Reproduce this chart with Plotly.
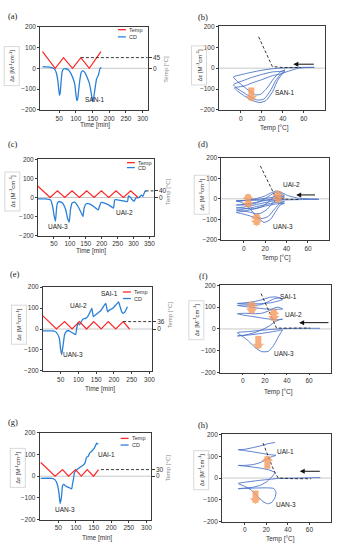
import plotly.graph_objects as go

W, H = 341, 550

# ---------------- data ----------------
# (a) SAN-1 : CD and temperature vs time
a_time = [0, 12, 25, 33, 38, 42, 46, 49, 51, 53, 56, 59, 63, 70, 78, 86, 93, 97, 100, 103, 105, 108, 112,
          116, 120, 126, 133, 140, 145, 149, 151, 154, 158, 162, 167, 172, 176]
a_cd = [8, 7, 5, 0, -8, -25, -60, -105, -130, -118, -60, -15, -3, -2, -8, -28, -55, -80, -125, -155, -150,
        -110, -55, -20, -12, -18, -40, -70, -110, -150, -160, -135, -90, -50, -35, -2, 5]
a_temp_time = [0, 38, 63, 90, 115, 140, 175]
a_temp = [70, 0, 45, 0, 45, 0, 70]
a_hold_time = [115, 320]
a_hold_temp = [45, 45]

# (b) SAN-1 : CD vs temperature
b_temp = [70, 60, 50, 40, 30, 20, 10, 3, -7,
          -4, 2, 9, 14, 19, 25, 31, 37, 42,
          40, 30, 20, 10, 3, -7,
          -4, 3, 10, 16, 22, 28, 33, 38, 42,
          40, 30, 20, 10, 3, -6,
          -3, 4, 11, 18, 24, 30, 35, 40, 47, 55, 62, 70]
b_cd = [4, 4, 3, 1, -3, -10, -20, -28, -42,
        -60, -85, -112, -128, -125, -95, -52, -20, -8,
        -14, -18, -30, -45, -58, -79,
        -95, -118, -140, -153, -148, -110, -62, -28, -14,
        -25, -36, -55, -72, -86, -94,
        -110, -135, -155, -165, -155, -115, -60, -25, -12, 0, 3, 4]
b_guide_temp = [17, 24, 30, 40, 57]
b_guide_cd = [150, 75, 8, 3, 3]

# (c) UAN-3 -> UAI-2 : CD and temperature vs time
c_time = [0, 20, 35, 40, 46, 51, 55, 58, 61, 67, 77, 87, 93, 98, 102, 107, 115, 126, 136, 141, 145, 151, 162,
          177, 189, 193, 198, 209, 224, 237, 241, 250, 265, 281, 284, 291, 296, 302, 307, 317, 325, 329, 336, 340]
c_cd = [-7, -7, -10, -14, -47, -98, -124, -64, -29, -21, -29, -64, -110, -129, -64, -29, -24, -47, -81, -100,
        -55, -33, -33, -50, -65, -47, -26, -29, -41, -55, -12, -12, -17, -21, 9, 0, -12, -19, -3, 0, 14, 5, 34, 31]
c_temp_time = [0, 38, 61, 84, 107, 130, 153, 176, 199, 222, 245, 268, 291, 314]
c_temp = [68, 0, 40, 0, 40, 0, 40, 0, 40, 0, 40, 0, 40, 0]
c_hold_time = [338, 365]
c_hold_temp = [40, 40]

# (d) UAN-3 -> UAI-2 : CD vs temperature
d_temp = [70, 60, 50, 40, 30, 20, 10, 0, -7,
          -2, 5, 12, 19, 25, 30, 34, 38,
          30, 20, 10, 0, -7,
          -2, 5, 11, 17, 23, 29, 34, 38,
          30, 20, 10, 0, -7,
          -2, 5, 11, 16, 22, 28, 33, 38,
          30, 20, 10, 0, -7,
          -2, 5, 11, 17, 23, 28, 33, 38,
          30, 20, 10, 0, -7,
          -2, 5, 12, 18, 24, 29, 34, 38,
          30, 20, 10, 0, -7,
          -2, 5, 12, 19, 25, 30, 35, 40, 50, 60, 70]
d_cd = [-3, -3, -4, -5, -6, -6, -7, -8, -9,
        -18, -45, -85, -115, -100, -60, -30, -22,
        -25, -35, -48, -60, -66,
        -72, -82, -92, -96, -85, -48, -20, -14,
        -18, -28, -40, -50, -55,
        -58, -64, -72, -70, -50, -15, 0, -2,
        -8, -18, -30, -40, -44,
        -45, -48, -48, -38, -15, 10, 18, 8,
        2, -8, -18, -27, -30,
        -30, -27, -20, -5, 15, 30, 28, 15,
        10, 2, -4, -8, -12,
        -10, -5, 2, 12, 28, 38, 32, 18, 4, 0, -1]
d_guide_temp = [15.5, 22, 27, 30, 40, 52]
d_guide_cd = [160, 90, 35, 5, -2, -3]

# (e) UAN-3 -> UAI-2 -> SAI-1 : CD and temperature vs time
e_time = [0, 29, 38, 46, 50, 53, 57, 61, 66, 71, 77, 85, 92, 96, 99, 103, 108, 112, 120, 126, 131, 136, 138,
          142, 148, 154, 164, 173, 177, 182, 187, 196, 205, 213, 216, 222, 226, 231, 238]
e_cd = [-9, -9, -16, -43, -98, -122, -75, -27, -12, -7, -12, -20, -27, 12, 31, 20, 35, 46, 51, 59, 75, 93, 98,
        59, 67, 75, 90, 114, 122, 82, 90, 98, 114, 129, 114, 82, 75, 82, 106]
e_temp_time = [0, 38, 61, 82, 103, 123, 143, 164, 184, 205, 226, 244]
e_temp = [64, 0, 36, 0, 36, 0, 36, 0, 36, 0, 36, 0]
e_hold_time = [226, 310]
e_hold_temp = [36, 36]

# (f) UAN-3 -> UAI-2 -> SAI-1 : CD vs temperature
f_temp = [70, 60, 50, 40, 32, 24, 15, 5, -5,
          0, 5, 11, 17, 23, 28, 32, 35, 36,
          30, 20, 10, 0, -5,
          2, 10, 18, 24, 29, 33, 36,
          30, 20, 10, 0, -5,
          2, 10, 17, 23, 28, 32, 36,
          30, 20, 10, 0, -5,
          2, 10, 17, 23, 28, 33, 36,
          32, 25, 15, 5, -5,
          2, 10, 18, 24, 30, 35]
f_cd = [3, 3, 3, 2, 0, -3, -7, -12, -17,
        -35, -55, -85, -104, -103, -75, -38, -12, -5,
        -10, -18, -25, -30, -32,
        -28, -18, -2, 14, 33, 42, 45,
        42, 48, 56, 64, 70,
        72, 70, 72, 82, 95, 100, 92,
        90, 92, 98, 104, 108,
        110, 108, 112, 125, 138, 142, 135,
        128, 120, 116, 115, 117,
        120, 125, 135, 145, 147, 140]
f_guide_temp = [16.5, 20, 23, 27.5, 30.5, 45, 61]
f_guide_cd = [162, 124, 87, 41, 4, 4, 4]

# (g) UAN-3 -> UAI-1 : CD and temperature vs time
g_time = [0, 32, 41, 48, 52, 55, 59, 62, 66, 72, 81, 88, 90, 93, 96, 104, 113, 121, 126, 130, 135, 139, 146,
          153, 159, 163]
g_cd = [-10, -10, -17, -43, -80, -125, -95, -43, -38, -47, -53, -58, -38, -13, 17, 32, 43, 52, 62, 87, 92,
        107, 117, 132, 152, 147]
g_temp_time = [0, 41, 62, 79, 99, 115, 132, 150, 164]
g_temp = [62, 0, 30, 0, 30, 0, 30, 0, 30]
g_hold_time = [171, 315]
g_hold_temp = [30, 30]

# (h) UAN-3 -> UAI-1 : CD vs temperature
h_temp = [70, 60, 50, 40, 31, 25, 15, 5, -6,
          0, 6, 12, 17, 21, 25, 28, 29, 27,
          20, 10, 0, -6,
          0, 8, 15, 21, 25, 28,
          22, 15, 8, 0, -6,
          0, 8, 15, 21, 25, 29,
          22, 15, 8, 0, -6,
          0, 8, 15, 22, 28]
h_cd = [2, 1, 0, -1, -2, -5, -10, -16, -25,
        -38, -55, -85, -108, -118, -112, -90, -65, -48,
        -45, -46, -48, -49,
        -46, -42, -32, -15, 5, 25,
        38, 45, 50, 55, 58,
        58, 62, 72, 88, 98, 104,
        108, 114, 120, 126, 130,
        132, 140, 148, 158, 163]
h_guide_temp = [17, 22, 27, 31, 45, 61.5]
h_guide_cd = [160, 101, 35, 0, -3, -3]

time_ticks_300 = [50, 100, 150, 200, 250, 300]
time_ticks_350 = [50, 100, 150, 200, 250, 300, 350]
temp_ticks = [0, 20, 40, 60]
cd_ticks = [-200, -100, 0, 100, 200]

# ---------------- styling helpers ----------------
FONT = 'Liberation Sans, Arial, sans-serif'
SERIF = 'Liberation Serif, Times New Roman, serif'
RED = '#ff2626'
BLUE_T = '#2a80d8'
BLUE_L = '#4a72c8'
ORANGE = 'rgba(245,155,95,0.8)'
AXC = '#3a3a3a'
tick_font = dict(family=FONT, size=6.5, color='#333333')

fig = go.Figure()
layout = dict(width=W, height=H, margin=dict(l=0, r=0, t=0, b=0), paper_bgcolor='white',
              plot_bgcolor='white', showlegend=False, font=dict(family=FONT))
annotations = []
shapes = []


def xd(p):
    return p / W


def yd(p):
    return 1 - p / H


def akey(p, n):
    return p if n == 1 else f'{p}{n}'


def base_axis(domain, rng, tickvals, anchor):
    return dict(domain=domain, range=rng, tickvals=tickvals, anchor=anchor,
                showline=True, linecolor=AXC, linewidth=0.8, mirror=True,
                ticks='outside', ticklen=2, tickwidth=0.8, tickcolor=AXC,
                showgrid=False, zeroline=False, tickfont=tick_font, fixedrange=True)


def add_frame(n, box, xr, xtv):
    x0, x1, y0, y1 = box
    xid, yid = akey('x', n), akey('y', n)
    layout[akey('xaxis', n)] = base_axis([xd(x0), xd(x1)], list(xr), xtv, yid)
    layout[akey('yaxis', n)] = base_axis([yd(y1), yd(y0)], [-200, 200], cd_ticks, xid)
    shapes.append(dict(type='line', xref=f'{xid} domain', x0=0, x1=1, yref=yid, y0=0, y1=0,
                       line=dict(color='#c8c8c8', width=1), layer='below'))
    return xid, yid


def note(text, x, y, size=7, family=FONT, color='#222222', angle=0, xanchor='center', **kw):
    annotations.append(dict(text=text, x=xd(x), y=yd(y), xref='paper', yref='paper', showarrow=False,
                            font=dict(family=family, size=size, color=color), textangle=angle,
                            xanchor=xanchor, yanchor='middle', **kw))


def ylab(x, y):
    note('Δε [M<sup>-1</sup>cm<sup>-1</sup>]', x, y, size=6, angle=-90, color='#333333',
         bordercolor='#d9d9d9', borderwidth=1, borderpad=3)


def legend(x, yt, yc):
    for yy, col, lab in ((yt, RED, 'Temp'), (yc, BLUE_T, 'CD')):
        shapes.append(dict(type='line', xref='paper', yref='paper', x0=xd(x), x1=xd(x + 8),
                           y0=yd(yy), y1=yd(yy), line=dict(color=col, width=1.3)))
        note(lab, x + 9, yy, size=5.5, xanchor='left', color='#333333')


def block_arrow(xid, yid, x, y_from, y_to, both=False):
    annotations.append(dict(x=x, y=y_to, ax=x, ay=y_from, xref=xid, yref=yid, axref=xid, ayref=yid,
                            showarrow=True, text='', arrowhead=1, arrowsize=0.32, arrowwidth=6,
                            arrowcolor=ORANGE, arrowside='end+start' if both else 'end',
                            startarrowhead=1, startarrowsize=0.32))


def black_arrow(xid, yid, x_from, x_to, y):
    annotations.append(dict(x=x_to, y=y, ax=x_from, ay=y, xref=xid, yref=yid, axref=xid, ayref=yid,
                            showarrow=True, text='', arrowhead=2, arrowsize=1, arrowwidth=1,
                            arrowcolor='#111111'))


def time_panel(n, tn, box, xr, xtv, t_range, hold_label, t, cd, tt, temp, ht, htemp):
    xid, yid = add_frame(n, box, xr, xtv)
    tid = akey('y', tn)
    layout[akey('yaxis', tn)] = dict(overlaying=yid, side='right', anchor=xid, range=[-t_range, t_range],
                                     tickvals=[0, hold_label], ticks='outside', ticklen=3, tickwidth=0.8,
                                     tickcolor=AXC, showline=False, showgrid=False, zeroline=False,
                                     tickfont=tick_font, fixedrange=True)
    fig.add_trace(go.Scatter(x=t, y=cd, xaxis=xid, yaxis=yid, mode='lines',
                             line=dict(color=BLUE_T, width=1.3, shape='spline', smoothing=0.4)))
    fig.add_trace(go.Scatter(x=tt, y=temp, xaxis=xid, yaxis=tid, mode='lines',
                             line=dict(color=RED, width=1.2)))
    fig.add_trace(go.Scatter(x=ht, y=htemp, xaxis=xid, yaxis=tid, mode='lines',
                             line=dict(color='#222222', width=0.9, dash='3px,2px')))
    return xid, yid


def loop_panel(n, box, temp, cd, gt, gcd):
    xid, yid = add_frame(n, box, [-21, 80], temp_ticks)
    fig.add_trace(go.Scatter(x=temp, y=cd, xaxis=xid, yaxis=yid, mode='lines',
                             line=dict(color=BLUE_L, width=0.9, shape='spline', smoothing=0.5)))
    fig.add_trace(go.Scatter(x=gt, y=gcd, xaxis=xid, yaxis=yid, mode='lines',
                             line=dict(color='#222222', width=0.9, dash='3px,2px')))
    return xid, yid


# ---------------- panels ----------------
# (a)
time_panel(1, 9, (40.5, 149, 23, 107.3), [-7, 315], time_ticks_300, 175, 45,
           a_time, a_cd, a_temp_time, a_temp, a_hold_time, a_hold_temp)
legend(119, 26, 33.3)
note('SAN-1', 96, 97, size=6.5)
note('Time [min]', 96, 123, size=6.5, color='#333333')
ylab(12, 63)
note('Temp [°C]', 168, 66, size=6, angle=-90, color='#888888')
note('(a)', 13, 12, size=8.5, family=SERIF)

# (b)
xb, yb = loop_panel(2, (220.7, 327.7, 22.7, 107.3), b_temp, b_cd, b_guide_temp, b_guide_cd)
block_arrow(xb, yb, 10, -85, -160)
black_arrow(xb, yb, 71, 50, 19)
note('SAN-1', 288, 90, size=6.5)
note('Temp [°C]', 277, 126, size=6.5, color='#333333')
ylab(201, 62)
note('(b)', 205, 13, size=8.5, family=SERIF)

# (c)
time_panel(3, 10, (38.3, 155, 157.3, 234.7), [0, 363], time_ticks_350, 231, 40,
           c_time, c_cd, c_temp_time, c_temp, c_hold_time, c_hold_temp)
legend(128, 160.7, 165.7)
note('UAN-3', 59, 225, size=6.5)
note('UAI-2', 126, 211, size=6.5)
note('Time [min]', 92, 250, size=6.5, color='#333333')
ylab(12, 190)
note('Temp [°C]', 169, 190, size=6, angle=-90, color='#888888')
note('(c)', 13, 142, size=8.5, family=SERIF)

# (d)
xdd, ydd = loop_panel(4, (223.3, 332.3, 155.7, 239), d_temp, d_cd, d_guide_temp, d_guide_cd)
block_arrow(xdd, ydd, 4, -53, 27, both=True)
block_arrow(xdd, ydd, 32, -29, 43, both=True)
block_arrow(xdd, ydd, 12, -61, -133, both=True)
black_arrow(xdd, ydd, 68, 49, 19)
note('UAI-2', 294, 183, size=6.5)
note('UAN-3', 286, 225, size=6.5)
note('Temp [°C]', 279, 257, size=6.5, color='#333333')
ylab(203, 193)
note('(d)', 205, 142, size=8.5, family=SERIF)

# (e)
time_panel(5, 11, (43.3, 153.3, 286.7, 371.7), [0, 307], time_ticks_300, 204, 36,
           e_time, e_cd, e_temp_time, e_temp, e_hold_time, e_hold_temp)
legend(124, 291.7, 298.3)
note('UAI-2', 79, 305, size=6.5)
note('SAI-1', 110.5, 293.3, size=6.5)
note('UAN-3', 74, 355, size=6.5)
note('Time [min]', 101, 390, size=6.5, color='#333333')
ylab(19, 325)
note('Temp [°C]', 171, 315, size=6, angle=-90, color='#888888')
note('(e)', 15, 273, size=8.5, family=SERIF)

# (f)
xf, yf = loop_panel(6, (221.7, 334, 285, 373.3), f_temp, f_cd, f_guide_temp, f_guide_cd)
block_arrow(xf, yf, 8, 60, 129, both=True)
block_arrow(xf, yf, 28, 26, 94, both=True)
block_arrow(xf, yf, 14, -26, -94)
black_arrow(xf, yf, 79, 51, 29)
note('SAI-1', 291.5, 296, size=6.5)
note('UAI-2', 296.5, 314.3, size=6.5)
note('UAN-3', 287, 354, size=6.5)
note('Temp [°C]', 281, 393, size=6.5, color='#333333')
ylab(198, 320)
note('(f)', 205, 276, size=8.5, family=SERIF)

# (g)
time_panel(7, 12, (40, 152, 434.3, 522.3), [-3, 312], time_ticks_300, 197, 30,
           g_time, g_cd, g_temp_time, g_temp, g_hold_time, g_hold_temp)
legend(121.7, 440, 446.7)
note('UAI-1', 107.5, 456.7, size=6.5)
note('UAN-3', 66, 511.7, size=6.5)
note('Time [min]', 97.5, 541, size=6.5, color='#333333')
ylab(18, 470)
note('Temp [°C]', 170, 470, size=6, angle=-90, color='#888888')
note('(g)', 13, 423, size=8.5, family=SERIF)

# (h)
xh, yh = loop_panel(8, (224, 334, 436, 524.3), h_temp, h_cd, h_guide_temp, h_guide_cd)
block_arrow(xh, yh, 21, 36, 105)
block_arrow(xh, yh, 10, -50, -119)
black_arrow(xh, yh, 71, 51, 31)
note('UAI-1', 288, 453.3, size=6.5)
note('UAN-3', 289, 507.3, size=6.5)
note('Temp [°C]', 283, 542, size=6.5, color='#333333')
ylab(203, 472)
note('(h)', 205, 426, size=8.5, family=SERIF)

layout['annotations'] = annotations
layout['shapes'] = shapes
fig.update_layout(**layout)
fig.write_html('out.html', config={'displayModeBar': False},
               post_script="document.body.style.margin='0px';document.body.style.overflow='hidden';")
